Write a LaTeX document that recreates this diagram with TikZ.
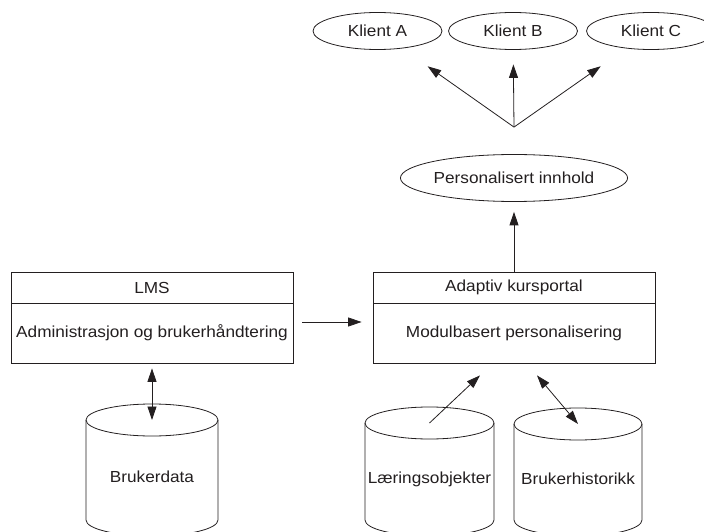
\documentclass[tikz,border=0pt]{standalone}
\usepackage{fontspec}
\setmainfont{Liberation Sans}[FakeStretch=1.075]
\usetikzlibrary{arrows.meta,shapes.geometric}
\definecolor{ink}{RGB}{35,31,32}

% database drum: name, centre x, x radius, top-rim y, bottom-rim y
\newcommand\dbcyl[5]{%
  \coordinate (#1) at (#2,#4);
  \draw[line] (#2-#3,#4) -- (#2-#3,#5)
     arc[start angle=180,end angle=360,x radius=#3,y radius=16] -- (#2+#3,#4);
  \draw[line] (#2,#4) ellipse[x radius=#3,y radius=16];
}

\begin{document}
\begin{tikzpicture}[x=1pt,y=1pt,
  every node/.style={font=\fontsize{16}{19}\selectfont, text=ink},
  line/.style={draw=ink, line width=0.8pt},
  tip/.tip={Triangle[length=13.5pt,width=9pt]},
  arr/.style={line, -tip},
  darr/.style={line, tip-tip},
  oval/.style={ellipse, line, inner sep=0pt},
  header/.style={rectangle, line, minimum width=282pt, minimum height=31pt, inner sep=0pt},
  body/.style={rectangle, line, minimum width=282pt, minimum height=60pt, inner sep=0pt},
]
\useasboundingbox (0,0) rectangle (704,531);

% clients
\node[oval, minimum width=129pt, minimum height=37pt] (ka) at (377.5,500) {Klient A};
\node[oval, minimum width=129pt, minimum height=37pt] (kb) at (513,500) {Klient B};
\node[oval, minimum width=129pt, minimum height=37pt] (kc) at (651,500) {Klient C};

% personalised content
\node[oval, minimum width=202pt, minimum height=47pt] (pers) at (514,353) {Personalisert innhold};
\coordinate (fan) at ([yshift=27pt]pers.north);

% LMS
\node[header] (lmshead) at (152,243.5) {LMS};
\node[body] (lmsbody) at (152,198) {Administrasjon og brukerhåndtering};

% adaptive course portal
\node[header] (adhead) at (514,243.5) {Adaptiv kursportal};
\node[body] (adbody) at (514,198) {Modulbasert personalisering};

% data stores
\dbcyl{bdtop}{152}{66}{111}{11}
\node (bd) at (152,54) {Brukerdata};
\dbcyl{lotop}{429.5}{64.5}{108}{11}
\node (lo) at (429.5,52) {Læringsobjekter};
\dbcyl{bhtop}{578}{64}{107}{11}
\node (bh) at (578,52) {Brukerhistorikk};

% connectors
\draw[arr, shorten >=31pt] (fan) -- (ka);
\draw[arr, shorten >=14.5pt] (fan) -- (kb);
\draw[arr, shorten >=31pt] (fan) -- (kc);
\draw[arr, shorten >=10pt] (adhead.north) -- (pers.south);
\draw[arr] ([xshift=9pt,yshift=11pt]lmsbody.east) -- ([xshift=-11pt,yshift=11pt]adbody.west);
\draw[darr, shorten <=5pt] (lmsbody.south) -- (bdtop);
\draw[arr] (lotop) -- ([xshift=-34pt,yshift=-12pt]adbody.south);
\draw[darr] (bhtop) -- ([xshift=23pt,yshift=-12pt]adbody.south);
\end{tikzpicture}
\end{document}
